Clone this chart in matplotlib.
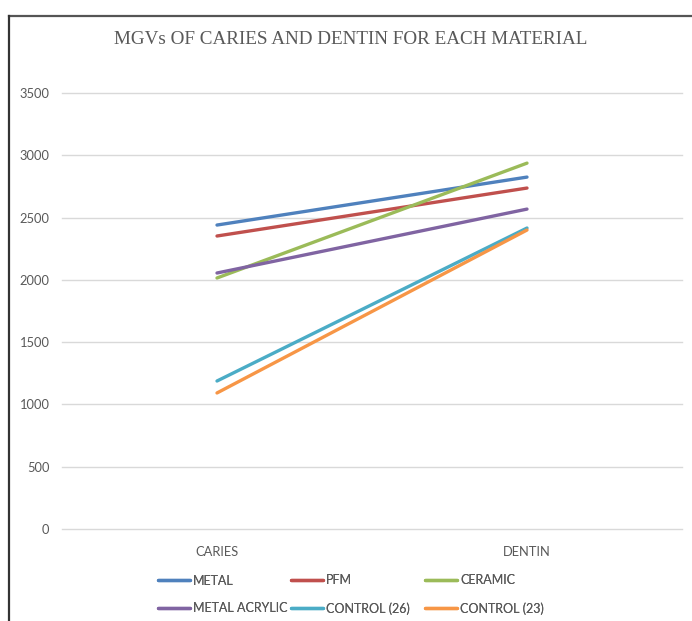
import matplotlib
matplotlib.use("Agg")
import matplotlib.pyplot as plt
from matplotlib.lines import Line2D

# Mean grey values per material at the caries and dentin sites
categories = ["CARIES", "DENTIN"]
series_names = ["METAL", "PFM", "CERAMIC", "METAL ACRYLIC", "CONTROL (26)", "CONTROL (23)"]
metal = [2440, 2825]
pfm = [2352, 2737]
ceramic = [2015, 2937]
metal_acrylic = [2055, 2568]
control_26 = [1188, 2416]
control_23 = [1092, 2400]
y_ticks = [0, 500, 1000, 1500, 2000, 2500, 3000, 3500]

series_values = [metal, pfm, ceramic, metal_acrylic, control_26, control_23]
colors = ["#4F81BD", "#C0504D", "#9BBB59", "#8064A2", "#4BACC6", "#F79646"]
text_color = "#595959"
label_font = "Lato"
label_size = 9.3
legend_size = 9.0

fig = plt.figure(figsize=(6.92, 6.21), dpi=100)
fig.patch.set_facecolor("white")
ax = fig.add_axes([62 / 692, 1 - 529 / 621, 620 / 692, 436 / 621])

x = list(range(len(categories)))
handles = []
for name, vals, c in zip(series_names, series_values, colors):
    (h,) = ax.plot(x, vals, color=c, linewidth=2.4, solid_capstyle="round", label=name, zorder=3)
    handles.append(h)

ax.set_xlim(-0.5, len(categories) - 0.5)
ax.set_ylim(0, 3500)
ax.set_yticks(y_ticks)
ax.set_yticklabels([str(v) for v in y_ticks], fontfamily=label_font, fontsize=label_size, color=text_color)
ax.set_xticks(x)
ax.set_xticklabels(categories, fontfamily=label_font, fontsize=label_size, color=text_color)
ax.tick_params(axis="both", length=0)
ax.tick_params(axis="y", pad=9)
ax.tick_params(axis="x", pad=12)
ax.grid(axis="y", color="#D9D9D9", linewidth=1.0)
for gl in ax.get_ygridlines():
    gl.set_clip_on(False)
ax.set_axisbelow(True)
for s in ax.spines.values():
    s.set_visible(False)

fig.text(351 / 692, 1 - 40 / 621, "MGVs OF CARIES AND DENTIN FOR EACH MATERIAL",
         ha="center", va="center", fontfamily="Liberation Serif", fontsize=13.8, color=text_color)

# Legend in three equal-width columns, two rows each
col_left = [147 / 692, 280 / 692, 414 / 692]
for col, left in enumerate(col_left):
    idx = [col, col + 3]
    leg = fig.legend([handles[i] for i in idx], [series_names[i] for i in idx],
                     ncol=1, loc="center left", bbox_to_anchor=(left, 1 - 594.5 / 621),
                     frameon=False, handlelength=2.5, handletextpad=0.3,
                     labelspacing=1.25, prop={"family": label_font, "size": legend_size})
    for t in leg.get_texts():
        t.set_color(text_color)
    fig.add_artist(leg)

# Outer frame on the top and left edges
fig.add_artist(Line2D([9 / 692, 1.0], [1 - 16 / 621, 1 - 16 / 621], transform=fig.transFigure,
                      color="#555555", linewidth=1.6))
fig.add_artist(Line2D([9 / 692, 9 / 692], [0.0, 1 - 16 / 621], transform=fig.transFigure,
                      color="#333333", linewidth=1.6))

fig.savefig("out.png", dpi=100)
